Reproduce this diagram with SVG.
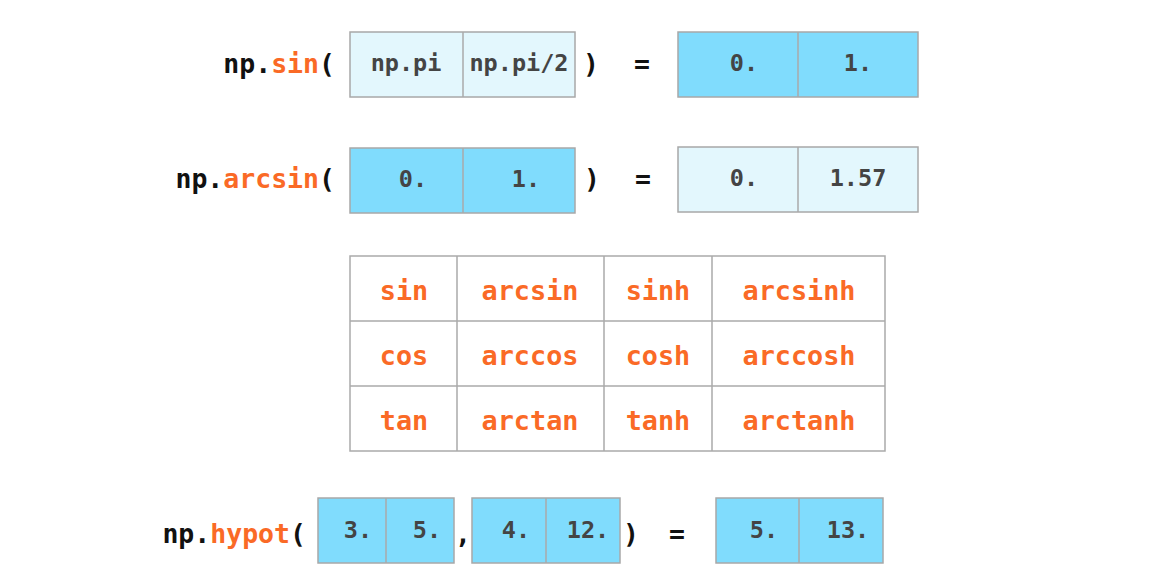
<svg xmlns="http://www.w3.org/2000/svg" width="1163" height="585" viewBox="0 0 1163 585">
<style>
text{font-family:"DejaVu Sans Mono","Liberation Mono",monospace;font-weight:bold}
.m{font-size:26.5px;fill:#111}
.o{fill:#fa6a26}
.c{font-size:23.5px;fill:#444;text-anchor:middle}
.t{font-size:26.8px;fill:#fa6a26;text-anchor:middle}
.lt{fill:#e3f7fd;stroke:#a8a8a8;stroke-width:1.5}
.bl{fill:#80dcfd;stroke:#a8a8a8;stroke-width:1.5}
.w{fill:#fff;stroke:#aaa;stroke-width:1.5}
.ln{stroke:#aaa;stroke-width:1.5}
</style>
<rect width="1163" height="585" fill="#fff"/>
<g id="row-sin">
<text class="m" x="335" y="73" text-anchor="end">np.<tspan class="o">sin</tspan>(</text>
<rect class="lt" x="350" y="32" width="225" height="65"/>
<line class="ln" x1="463" y1="32" x2="463" y2="97"/>
<text class="c" x="406" y="71">np.pi</text>
<text class="c" x="519" y="71">np.pi/2</text>
<text class="m" x="591" y="73" text-anchor="middle">)</text>
<text class="m" x="642" y="73" text-anchor="middle">=</text>
<rect class="bl" x="678" y="32" width="240" height="65"/>
<line class="ln" x1="798" y1="32" x2="798" y2="97"/>
<text class="c" x="744" y="71">0.</text>
<text class="c" x="858" y="71">1.</text>
</g>
<g id="row-arcsin">
<text class="m" x="335" y="188" text-anchor="end">np.<tspan class="o">arcsin</tspan>(</text>
<rect class="bl" x="350" y="148" width="225" height="65"/>
<line class="ln" x1="463" y1="148" x2="463" y2="213"/>
<text class="c" x="413" y="187">0.</text>
<text class="c" x="526" y="187">1.</text>
<text class="m" x="592" y="188" text-anchor="middle">)</text>
<text class="m" x="643" y="188" text-anchor="middle">=</text>
<rect class="lt" x="678" y="147" width="240" height="65"/>
<line class="ln" x1="798" y1="147" x2="798" y2="212"/>
<text class="c" x="744" y="186">0.</text>
<text class="c" x="858" y="186">1.57</text>
</g>
<g id="table">
<rect class="w" x="350" y="256" width="535" height="195"/>
<line class="ln" x1="457" y1="256" x2="457" y2="451"/>
<line class="ln" x1="604" y1="256" x2="604" y2="451"/>
<line class="ln" x1="712" y1="256" x2="712" y2="451"/>
<line class="ln" x1="350" y1="321" x2="885" y2="321"/>
<line class="ln" x1="350" y1="386" x2="885" y2="386"/>
<text class="t" x="404" y="300">sin</text>
<text class="t" x="530" y="300">arcsin</text>
<text class="t" x="658" y="300">sinh</text>
<text class="t" x="799" y="300">arcsinh</text>
<text class="t" x="404" y="365">cos</text>
<text class="t" x="530" y="365">arccos</text>
<text class="t" x="658" y="365">cosh</text>
<text class="t" x="799" y="365">arccosh</text>
<text class="t" x="404" y="430">tan</text>
<text class="t" x="530" y="430">arctan</text>
<text class="t" x="658" y="430">tanh</text>
<text class="t" x="799" y="430">arctanh</text>
</g>
<g id="row-hypot">
<text class="m" x="306" y="543" text-anchor="end">np.<tspan class="o">hypot</tspan>(</text>
<rect class="bl" x="318" y="498" width="136" height="65"/>
<line class="ln" x1="386" y1="498" x2="386" y2="563"/>
<text class="c" x="358" y="538">3.</text>
<text class="c" x="427" y="538">5.</text>
<text class="m" x="463" y="543" text-anchor="middle">,</text>
<rect class="bl" x="472" y="498" width="148" height="65"/>
<line class="ln" x1="546" y1="498" x2="546" y2="563"/>
<text class="c" x="516" y="538">4.</text>
<text class="c" x="588" y="538">12.</text>
<text class="m" x="631" y="543" text-anchor="middle">)</text>
<text class="m" x="677" y="543" text-anchor="middle">=</text>
<rect class="bl" x="716" y="498" width="167" height="65"/>
<line class="ln" x1="799" y1="498" x2="799" y2="563"/>
<text class="c" x="764" y="538">5.</text>
<text class="c" x="848" y="538">13.</text>
</g>
</svg>
